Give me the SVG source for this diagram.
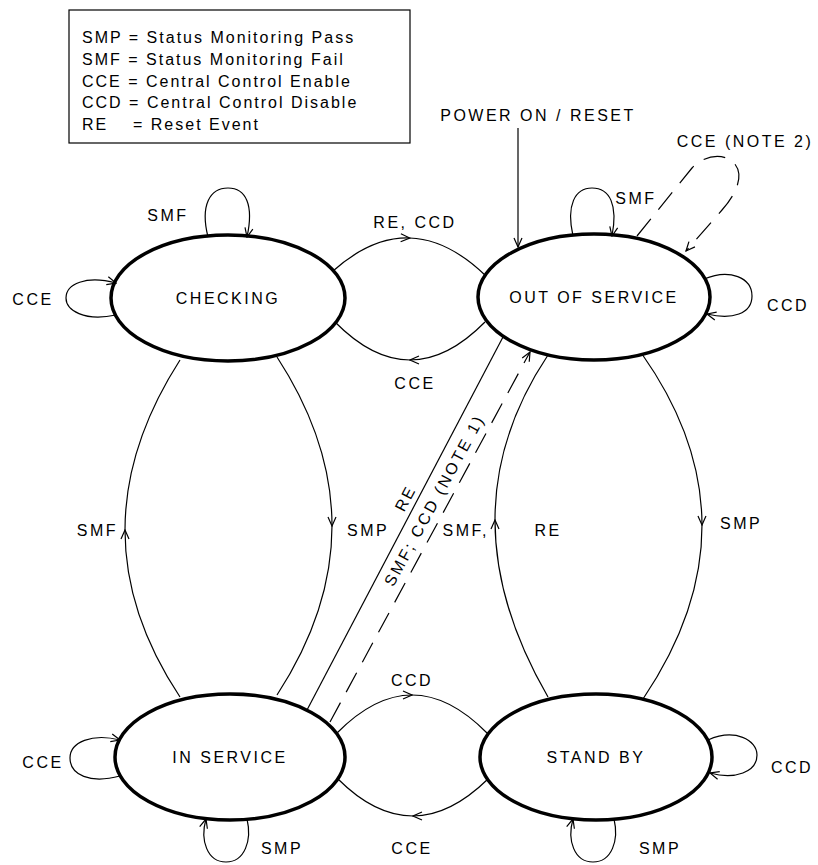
<svg xmlns="http://www.w3.org/2000/svg" width="818" height="865" viewBox="0 0 818 865">
<style>
text{font-family:"Liberation Sans",Arial,sans-serif;fill:#000}
.lg{font-size:16px;letter-spacing:2px}
.lb{font-size:16px;letter-spacing:2.5px}
.nd{fill:none;stroke:#000;stroke-width:3.5}
.c{fill:none;stroke:#000;stroke-width:1.2}
.d{fill:none;stroke:#000;stroke-width:1.2;stroke-dasharray:22 12}
.m{text-anchor:middle}
</style>
<defs>
<marker id="arr" viewBox="-10 -5 11 10" refX="0" refY="0" markerWidth="11" markerHeight="10" orient="auto" markerUnits="userSpaceOnUse">
<path d="M-9,-4 L0,0 L-9,4" fill="none" stroke="#000" stroke-width="1.2"/>
</marker>
</defs>
<rect x="0" y="0" width="818" height="865" fill="#fff"/>
<g id="legend">
<rect x="69" y="10" width="341" height="133" fill="none" stroke="#000" stroke-width="1.2"/>
<text class="lg" x="82" y="43">SMP = Status Monitoring Pass</text>
<text class="lg" x="82" y="65">SMF = Status Monitoring Fail</text>
<text class="lg" x="82" y="87">CCE = Central Control Enable</text>
<text class="lg" x="82" y="108">CCD = Central Control Disable</text>
<text class="lg" y="130"><tspan x="82">RE</tspan><tspan x="133">= Reset Event</tspan></text>
</g>
<g id="checking">
<ellipse class="nd" cx="228" cy="298" rx="117" ry="63"/>
<text class="lb m" x="228" y="304">CHECKING</text>
</g>
<g id="out-of-service">
<ellipse class="nd" cx="594" cy="297" rx="116" ry="63"/>
<text class="lb m" x="594" y="303">OUT OF SERVICE</text>
</g>
<g id="in-service">
<ellipse class="nd" cx="230" cy="757" rx="115" ry="63"/>
<text class="lb m" x="230" y="763">IN SERVICE</text>
</g>
<g id="stand-by">
<ellipse class="nd" cx="596" cy="757" rx="116" ry="63"/>
<text class="lb m" x="596" y="763">STAND BY</text>
</g>
<g id="connectors">
<line class="c" x1="518" y1="128" x2="518" y2="247" marker-end="url(#arr)"/>
<path class="c" d="M333,271 Q371.5,236.75 409.75,238" marker-end="url(#arr)"/>
<path class="c" d="M409.75,238 Q448,239.25 486,276"/>
<path class="c" d="M485,322 Q447.5,360 410,360" marker-end="url(#arr)"/>
<path class="c" d="M410,360 Q372.5,360 335,322"/>
<path class="c" d="M277,357 Q332,441.5 332,526" marker-end="url(#arr)"/>
<path class="c" d="M332,526 Q332,610.5 277,695"/>
<path class="c" d="M180,697 Q125,614 125,530" marker-end="url(#arr)"/>
<path class="c" d="M125,530 Q125,445.75 180,360"/>
<path class="c" d="M548,697 Q495,605.5 495,520" marker-end="url(#arr)"/>
<path class="c" d="M495,520 Q495,434.5 548,355"/>
<path class="c" d="M642,354 Q701.75,438.75 702,525" marker-end="url(#arr)"/>
<path class="c" d="M702,525 Q702.25,611.25 643,699"/>
<path class="c" d="M337,733 Q374.5,695 412,695" marker-end="url(#arr)"/>
<path class="c" d="M412,695 Q449.5,695 487,733"/>
<path class="c" d="M488,779 Q450,816 413,816" marker-end="url(#arr)"/>
<path class="c" d="M413,816 Q375,816 338,779"/>
<line class="c" x1="503" y1="337" x2="307" y2="710"/>
<line class="d" x1="330" y1="722" x2="530" y2="352" marker-end="url(#arr)"/>
<path class="d" d="M637,236 L692,168 C702,156 724,152 734,163 C744,174 738,192 722,210 L686,251" marker-end="url(#arr)"/>
<path class="c" d="M208,237 C200,205 210,188 228,188 C246,188 254,205 247,237" marker-end="url(#arr)"/>
<path class="c" d="M116,315 C84,322 66,310 66,298 C66,284 86,275 116,283" marker-end="url(#arr)"/>
<path class="c" d="M573,236 C566,205 575,188 592,188 C610,188 618,205 612,236" marker-end="url(#arr)"/>
<path class="c" d="M704,279 C730,268 752,278 752,296 C752,314 732,320 707,314" marker-end="url(#arr)"/>
<path class="c" d="M120,776 C90,784 70,775 70,758 C70,742 92,733 120,740" marker-end="url(#arr)"/>
<path class="c" d="M247,819 C252,840 245,862 226,862 C207,862 200,840 206,819" marker-end="url(#arr)"/>
<path class="c" d="M614,819 C619,840 612,862 593,862 C574,862 567,840 573,819" marker-end="url(#arr)"/>
<path class="c" d="M708,740 C735,728 757,740 757,755 C757,772 735,780 710,773" marker-end="url(#arr)"/>
</g>
<g id="labels">
<text class="lb m" x="538" y="121">POWER ON / RESET</text>
<text class="lb m" x="745" y="147">CCE (NOTE 2)</text>
<text class="lb m" x="415" y="228">RE, CCD</text>
<text class="lb m" x="415" y="389">CCE</text>
<text class="lb m" x="168" y="221">SMF</text>
<text class="lb m" x="33" y="305">CCE</text>
<text class="lb m" x="636" y="204">SMF</text>
<text class="lb m" x="788" y="311">CCD</text>
<text class="lb" x="118" y="536" text-anchor="end">SMF</text>
<text class="lb" x="347" y="536">SMP</text>
<text class="lb" x="489" y="536" text-anchor="end">SMF,</text>
<text class="lb m" x="548" y="536">RE</text>
<text class="lb" x="720" y="529">SMP</text>
<text class="lb m" x="412" y="686">CCD</text>
<text class="lb m" x="43" y="768">CCE</text>
<text class="lb m" x="792" y="773">CCD</text>
<text class="lb m" x="282" y="854">SMP</text>
<text class="lb m" x="412" y="854">CCE</text>
<text class="lb m" x="660" y="854">SMP</text>
<text class="lb m" transform="translate(405,498) rotate(-62)" y="6">RE</text>
<text class="lb m" transform="translate(434,500) rotate(-61.5)" y="6">SMF; CCD (NOTE 1)</text>
</g>
</svg>
